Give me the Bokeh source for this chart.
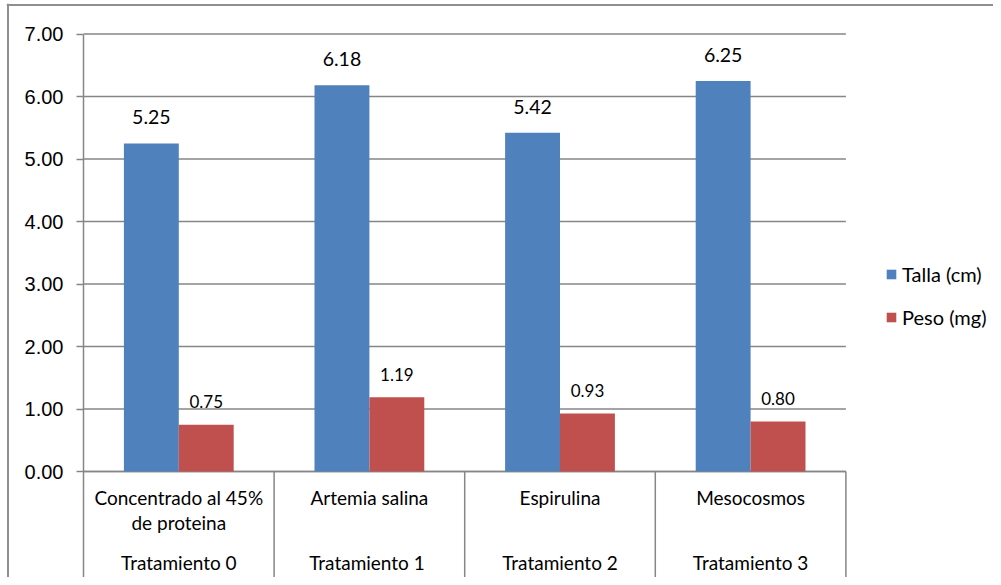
import numpy as np
from bokeh.plotting import figure
from bokeh.models import FixedTicker, PrintfTickFormatter, Legend, LegendItem
from bokeh.core.properties import value
from bokeh.embed import file_html
from bokeh.resources import INLINE

# ---- data ----
categories = ["Concentrado al 45%\nde proteina", "Artemia salina", "Espirulina", "Mesocosmos"]
groups = ["Tratamiento 0", "Tratamiento  1", "Tratamiento 2", "Tratamiento 3"]
talla = [5.25, 6.18, 5.42, 6.25]
peso = [0.75, 1.19, 0.93, 0.80]
y_ticks = [0, 1, 2, 3, 4, 5, 6, 7]
series_names = ["Talla (cm)", "Peso (mg)"]

BLUE = "#4F81BD"
RED = "#C0504D"
GRID = "#868686"
BORDER = "#8f8f8f"
CAL = value("Lato")

n = len(categories)
bar_w = 0.288
px_x = 190.6   # pixels per category
px_y = 62.5    # pixels per unit
x_start, x_end = -0.40399, 4.7744
y_start, y_end = -1.696, 7.488

p = figure(width=993, height=577, output_backend="svg", toolbar_location=None,
           x_range=(x_start, x_end), y_range=(y_start, y_end), x_axis_location=None,
           min_border_left=6, min_border_right=0, min_border_top=3, min_border_bottom=0)
p.outline_line_color = None
p.xgrid.visible = False
p.ygrid.visible = False
p.background_fill_color = "white"
p.border_fill_color = "white"

# y axis, drawn at the category start
ax = p.yaxis[0]
ax.fixed_location = 0
ax.bounds = (y_start, y_ticks[-1])
ax.ticker = FixedTicker(ticks=y_ticks, minor_ticks=[])
ax.formatter = PrintfTickFormatter(format="%.2f")
ax.axis_line_color = GRID
ax.axis_line_width = 1.5
ax.major_tick_line_color = GRID
ax.major_tick_line_width = 1.5
ax.major_tick_out = 7
ax.major_tick_in = 0
ax.minor_tick_line_color = None
ax.major_label_standoff = 13
ax.major_label_text_font = "Liberation Sans"
ax.major_label_text_font_size = "20px"
ax.major_label_text_color = "#000000"

# outer chart border (left and top)
p.segment(x0=[x_start + 1.5 / px_x], x1=[x_start + 1.5 / px_x], y0=[y_start], y1=[y_end],
          line_color=BORDER, line_width=2)
p.segment(x0=[x_start], x1=[x_end], y0=[y_end - 1.5 / px_y], y1=[y_end - 1.5 / px_y],
          line_color=BORDER, line_width=2)

# horizontal gridlines across the category area
p.segment(x0=[0] * len(y_ticks), x1=[n] * len(y_ticks), y0=y_ticks, y1=y_ticks,
          line_color=GRID, line_width=1.3)

# category separators below the baseline
bounds = list(range(1, n + 1))
p.segment(x0=bounds, x1=bounds, y0=[0] * n, y1=[y_start] * n, line_color=GRID, line_width=1.5)
p.segment(x0=[0], x1=[n], y0=[0], y1=[0], line_color=GRID, line_width=1.5)

idx = np.arange(n)
xb = idx + 0.5 - bar_w / 2
xr = idx + 0.5 + bar_w / 2
rb = p.vbar(x=xb, top=talla, width=bar_w, fill_color=BLUE, line_color=None)
rr = p.vbar(x=xr, top=peso, width=bar_w, fill_color=RED, line_color=None)

# data labels
p.text(x=xb, y=talla, text=["%.2f" % v for v in talla], text_align="center",
       text_baseline="alphabetic", y_offset=-26, text_font=CAL, text_font_size="19.5px",
       text_color="#000000")
p.text(x=xr, y=peso, text=["%.2f" % v for v in peso], text_align="center",
       text_baseline="alphabetic", y_offset=-23, text_font=CAL, text_font_size="17px",
       text_color="#000000")

# category labels
lines = [c.split("\n") for c in categories]
l1 = [l[0] for l in lines]
l2 = [l[1] if len(l) > 1 else "" for l in lines]
cx = idx + 0.5
p.text(x=cx, y=[0] * n, text=l1, text_align="center", text_baseline="middle", y_offset=26,
       text_font=CAL, text_font_size="19px", text_color="#000000")
p.text(x=cx, y=[0] * n, text=l2, text_align="center", text_baseline="middle", y_offset=51,
       text_font=CAL, text_font_size="19px", text_color="#000000")
p.text(x=cx, y=[0] * n, text=groups, text_align="center", text_baseline="middle", y_offset=91,
       text_font=CAL, text_font_size="19px", text_color="#000000")

legend = Legend(items=[LegendItem(label=series_names[0], renderers=[rb]),
                       LegendItem(label=series_names[1], renderers=[rr])],
                location=(879, 248), orientation="vertical")
legend.border_line_color = None
legend.background_fill_alpha = 0
legend.padding = 0
legend.margin = 0
legend.glyph_width = 12
legend.glyph_height = 12
legend.label_height = 22
legend.spacing = 19
legend.label_standoff = 5
legend.label_text_font = "Lato"
legend.label_text_font_size = "20px"
legend.label_text_color = "#000000"
legend.label_text_baseline = "middle"
p.add_layout(legend)

open("out.html", "w").write(file_html(p, INLINE))
